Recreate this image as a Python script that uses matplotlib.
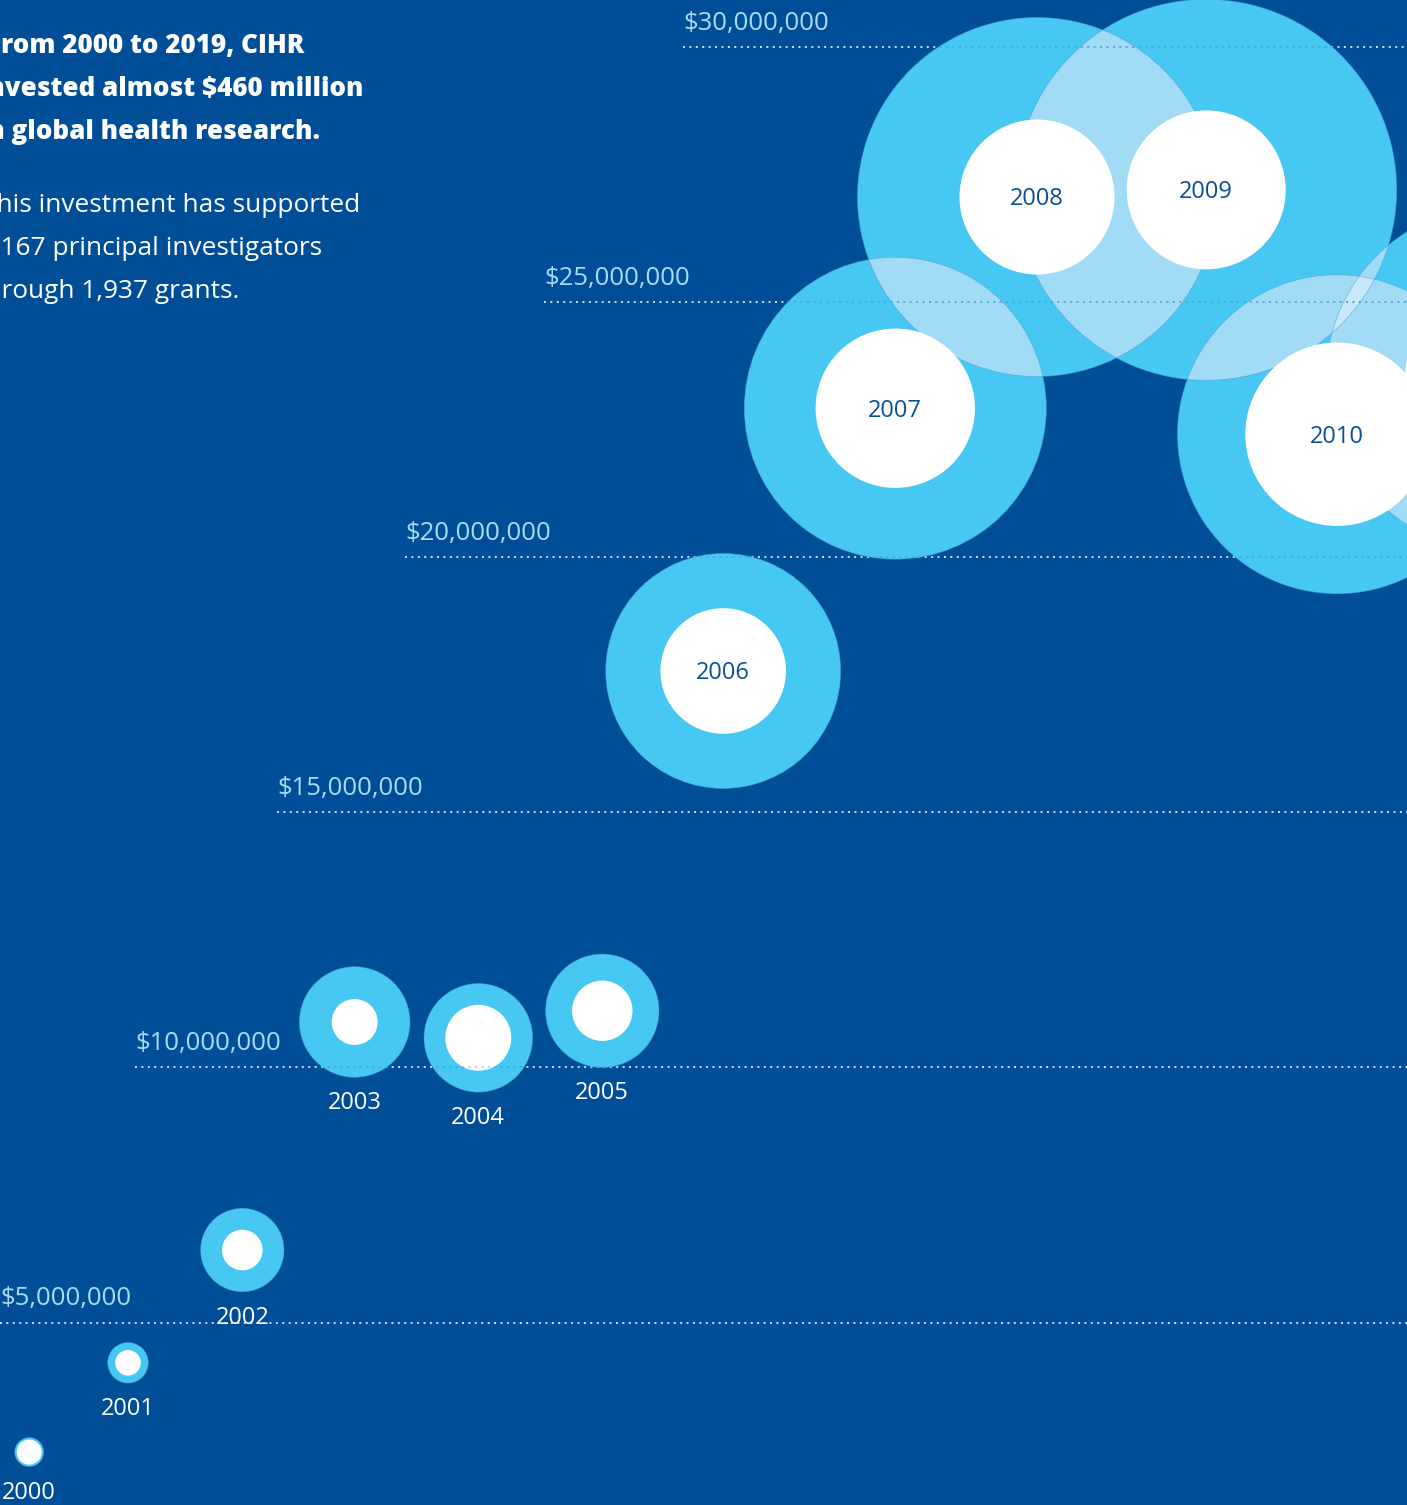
import itertools
import numpy as np
import matplotlib
matplotlib.use("Agg")
import matplotlib.pyplot as plt
from matplotlib.patches import Circle, Polygon

plt.rcParams['font.family'] = ['Open Sans', 'DejaVu Sans']

# data
years = [2000, 2001, 2002, 2003, 2004, 2005, 2006, 2007, 2008, 2009, 2010, 2011]
funding_m = [2.46, 4.21, 6.42, 10.89, 10.58, 11.11, 17.77, 22.92, 27.06, 27.20, 22.41, 23.51]
outer_size = [14.5, 20.3, 41.7, 55.3, 54.3, 56.7, 117.5, 151, 179.5, 190.5, 159.5, 173]
inner_size = [12.5, 12.8, 20.3, 23, 33, 30.2, 62.8, 79.7, 77.5, 79.5, 91.7, 94]
tick_values = [5, 10, 15, 20, 25, 30]
tick_labels = ['$5,000,000', '$10,000,000', '$15,000,000', '$20,000,000',
               '$25,000,000', '$30,000,000']

# layout
W, H = 1407, 1505
PPM = 51.02            # pixels per $1M
Y0 = 1577.6            # pixel row of $0
x_slot = [29.2, 128, 242.3, 354.7, 478.3, 602.3, 723.2, 895.3, 1037, 1206.2, 1337, 1499]
grid_start = [0, 135, 277, 405, 544, 683]

BG = '#004e97'
LIGHT = '#46c8f3'
LENS = '#a1dbf6'
TRIPLE = '#c7e9f9'
TICKC = '#a8dcf6'
DARKTXT = '#0a4f97'

fig = plt.figure(figsize=(W / 100, H / 100), dpi=100, facecolor=BG)
ax = fig.add_axes([0, 0, 1, 1])
ax.set_facecolor(BG)
ax.set_xlim(0, W / PPM)
ax.set_ylim((Y0 - H) / PPM, Y0 / PPM)
ax.axis('off')

xs = [x / PPM for x in x_slot]
ro = [r / PPM for r in outer_size]
ri = [r / PPM for r in inner_size]

# gridlines + labels
for v, lab, gs in zip(tick_values, tick_labels, grid_start):
    ax.plot([gs / PPM, W / PPM], [v, v], color='#c4e4f8', lw=1.4,
            linestyle=(0, (1, 2.3)), zorder=1)
    ax.text(gs / PPM, v + 17 / PPM, lab, color=TICKC, fontsize=18.5,
            ha='left', va='baseline', zorder=9)

# outer bubbles
outer = []
for x, y, r in zip(xs, funding_m, ro):
    c = Circle((x, y), r, facecolor=LIGHT, edgecolor='none', zorder=2)
    ax.add_patch(c)
    outer.append(c)


def overlap(discs, n=1440):
    pts = []
    for i, (cx, cy, r) in enumerate(discs):
        t = np.linspace(0, 2 * np.pi, n, endpoint=False)
        p = np.column_stack([cx + r * np.cos(t), cy + r * np.sin(t)])
        keep = np.ones(len(p), bool)
        for j, (dx, dy, dr) in enumerate(discs):
            if j != i:
                keep &= np.hypot(p[:, 0] - dx, p[:, 1] - dy) <= dr
        pts.append(p[keep])
    pts = np.vstack(pts)
    if len(pts) < 3:
        return None
    c = pts.mean(0)
    return pts[np.argsort(np.arctan2(pts[:, 1] - c[1], pts[:, 0] - c[0]))]


discs = list(zip(xs, funding_m, ro))
for k, col, z in [(2, LENS, 3), (3, TRIPLE, 4)]:
    for combo in itertools.combinations(discs, k):
        poly = overlap(list(combo))
        if poly is not None:
            ax.add_patch(Polygon(poly, closed=True, facecolor=col,
                                 edgecolor='none', zorder=z))

# thin outlines
for x, y, r in discs:
    ax.add_patch(Circle((x, y), r, facecolor='none', edgecolor='#4a98cc',
                        lw=0.5, alpha=0.6, zorder=5))

# inner white circles + year labels
for x, y, r, rin, yr in zip(xs, funding_m, ro, ri, years):
    ax.add_patch(Circle((x, y), rin, facecolor='white', edgecolor='none', zorder=6))
    if yr <= 2005:
        ax.text(x, y - r - 32 / PPM, str(yr), color='white', fontsize=17,
                ha='center', va='baseline', zorder=9)
    elif x + 30 / PPM < W / PPM:
        ax.text(x, y - 8.5 / PPM, str(yr), color=DARKTXT, fontsize=17,
                ha='center', va='baseline', zorder=9)

# faint gridline showing through bubbles
for c in outer:
    for v, gs in zip(tick_values, grid_start):
        ln, = ax.plot([gs / PPM, W / PPM], [v, v], color='#2f7fc0', lw=1.4,
                      alpha=0.35, linestyle=(0, (1, 2.3)), zorder=7)
        ln.set_clip_path(c)

# intro text (cropped on the left in the original)
renderer = fig.canvas.get_renderer()


def width_px(s, **kw):
    t = fig.text(0, 0, s, **kw)
    w = t.get_window_extent(renderer).width
    t.remove()
    return w


intro = [
    ('From 2000 to 2019, CIHR', 'F', 1, 52.7, 'heavy', 18.7),
    ('invested almost $460 million', 'in', 5, 95.7, 'heavy', 18.7),
    ('in global health research.', 'in', 5, 138.7, 'heavy', 18.7),
    ('This investment has supported', 'T', -3, 212, 'normal', 18.9),
    ('1,167 principal investigators', '1,', 1, 255, 'normal', 18.9),
    ('through 1,937 grants.', 'th', 1, 298, 'normal', 18.9),
]
for line, prefix, vis_x, base_y, wt, fs in intro:
    kw = dict(fontsize=fs, fontweight=wt)
    x0 = vis_x - width_px(prefix, **kw)
    fig.text(x0 / W, 1 - base_y / H, line, color='white', ha='left',
             va='baseline', **kw)

fig.savefig('out.png', dpi=100, facecolor=BG)
